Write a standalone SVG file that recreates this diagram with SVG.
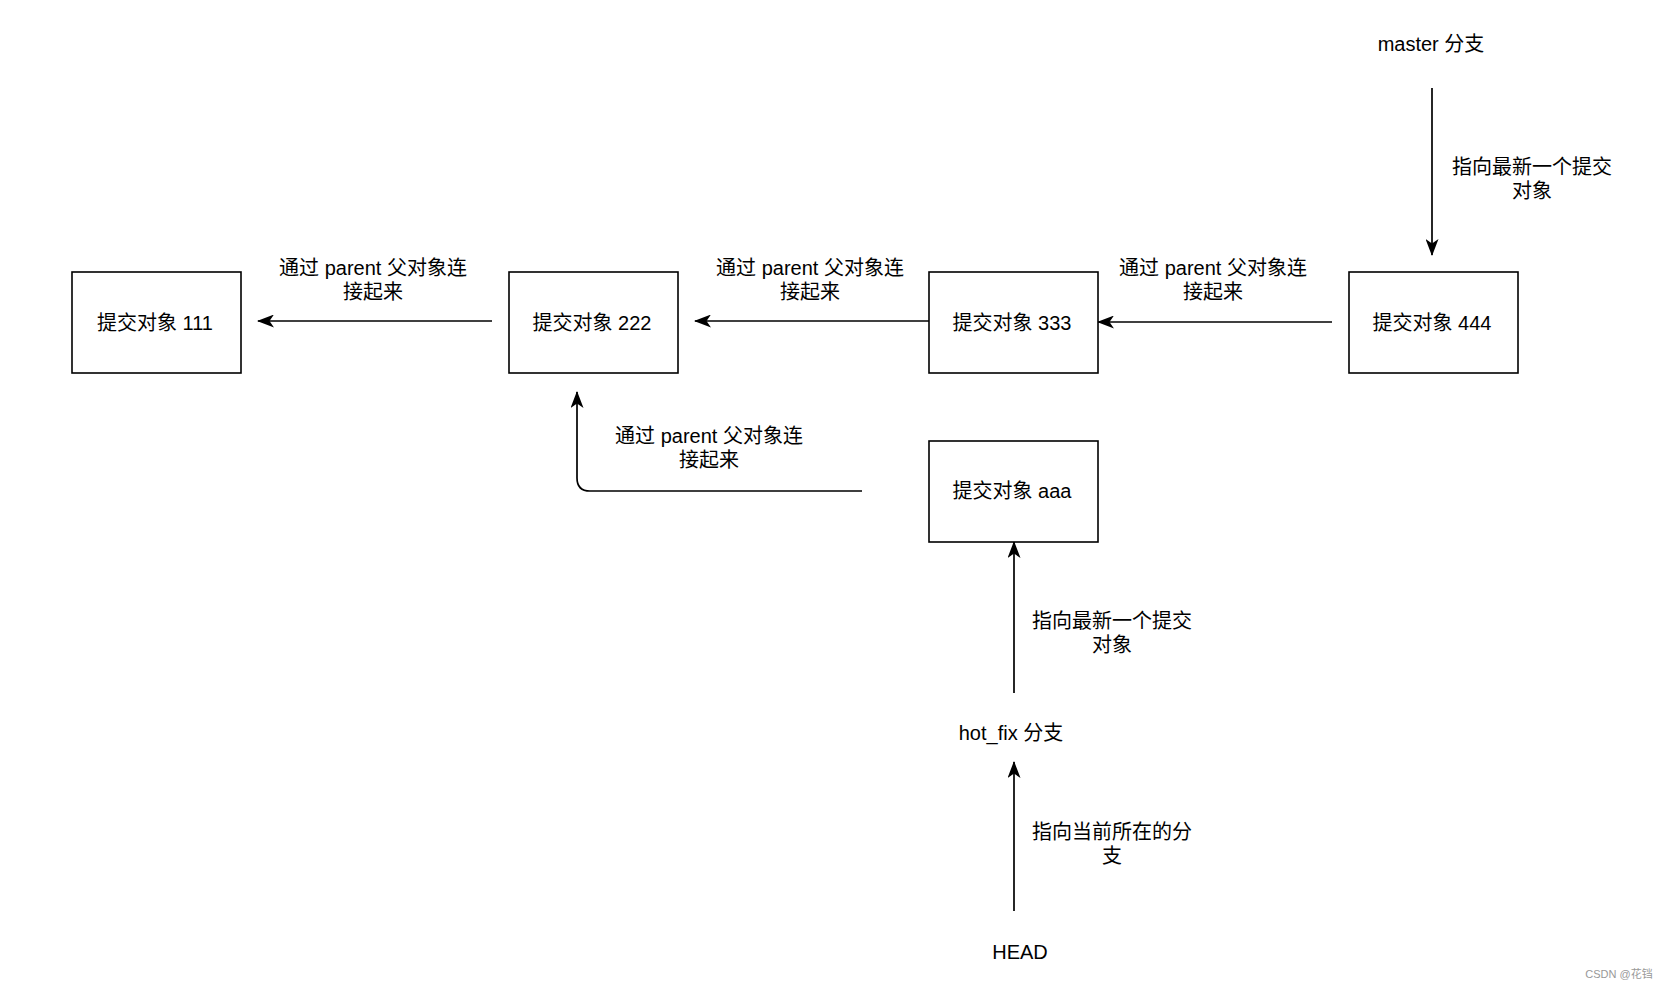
<svg xmlns="http://www.w3.org/2000/svg" width="1666" height="990" viewBox="0 0 1666 990">
<style>
.box{fill:#fff;stroke:#000;stroke-width:1.6}
.t{font-family:"Liberation Sans","Noto Sans CJK SC",sans-serif;font-size:20px;fill:#000;text-anchor:middle}
.c{fill:none;stroke:#000;stroke-width:1.7}
.wm{font-family:"Liberation Sans","Noto Sans CJK SC",sans-serif;font-size:11px;fill:#999;text-anchor:middle}
</style>
<defs>
<marker id="arr" markerUnits="userSpaceOnUse" viewBox="0 0 17 13" refX="16" refY="6.5" markerWidth="17" markerHeight="13" orient="auto">
<path d="M0,0 L17,6.5 L0,13 L4.5,6.5 Z" fill="#000"/>
</marker>
</defs>
<rect width="1666" height="990" fill="#fff"/>
<g id="connectors">
<path class="c" d="M492,321 L258,321" marker-end="url(#arr)"/>
<path class="c" d="M929,321 L695,321" marker-end="url(#arr)"/>
<path class="c" d="M1332,322 L1098,322" marker-end="url(#arr)"/>
<path class="c" d="M1432,88 L1432,255" marker-end="url(#arr)"/>
<path class="c" d="M862,491 L590,491 Q577,491 577,478 L577,392" marker-end="url(#arr)"/>
<path class="c" d="M1014,693 L1014,542" marker-end="url(#arr)"/>
<path class="c" d="M1014,911 L1014,762" marker-end="url(#arr)"/>
<text class="t"><tspan x="373" y="275">通过 parent 父对象连</tspan><tspan x="373" y="299">接起来</tspan></text>
<text class="t"><tspan x="810" y="275">通过 parent 父对象连</tspan><tspan x="810" y="299">接起来</tspan></text>
<text class="t"><tspan x="1213" y="275">通过 parent 父对象连</tspan><tspan x="1213" y="299">接起来</tspan></text>
<text class="t"><tspan x="709" y="443">通过 parent 父对象连</tspan><tspan x="709" y="467">接起来</tspan></text>
<text class="t"><tspan x="1532" y="174">指向最新一个提交</tspan><tspan x="1532" y="198">对象</tspan></text>
<text class="t"><tspan x="1112" y="628">指向最新一个提交</tspan><tspan x="1112" y="652">对象</tspan></text>
<text class="t"><tspan x="1112" y="839">指向当前所在的分</tspan><tspan x="1112" y="863">支</tspan></text>
</g>
<g id="n111"><rect class="box" x="72" y="272" width="169" height="101"/><text class="t" x="155" y="330">提交对象 111</text></g>
<g id="n222"><rect class="box" x="509" y="272" width="169" height="101"/><text class="t" x="592" y="330">提交对象 222</text></g>
<g id="n333"><rect class="box" x="929" y="272" width="169" height="101"/><text class="t" x="1012" y="330">提交对象 333</text></g>
<g id="n444"><rect class="box" x="1349" y="272" width="169" height="101"/><text class="t" x="1432" y="330">提交对象 444</text></g>
<g id="naaa"><rect class="box" x="929" y="441" width="169" height="101"/><text class="t" x="1012" y="498">提交对象 aaa</text></g>
<g id="master"><text class="t" x="1431" y="51">master 分支</text></g>
<g id="hotfix"><text class="t" x="1011" y="740">hot_fix 分支</text></g>
<g id="head"><text class="t" x="1020" y="959">HEAD</text></g>
<text class="wm" x="1619" y="978">CSDN @花铛</text>
</svg>
